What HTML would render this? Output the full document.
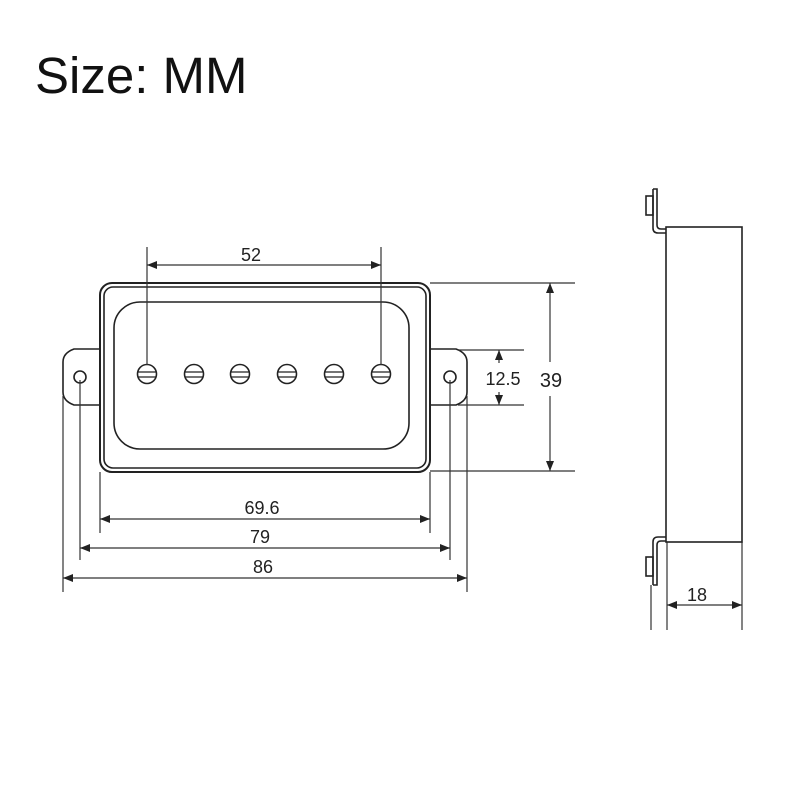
<!DOCTYPE html>
<html><head><style>body{margin:0;background:#fff}svg{display:block}</style></head><body>
<svg width="800" height="800" viewBox="0 0 800 800" xmlns="http://www.w3.org/2000/svg">
<defs>
<marker id="a" markerWidth="10" markerHeight="8" refX="10" refY="4" orient="auto-start-reverse" markerUnits="userSpaceOnUse"><path d="M0,0 L10,4 L0,8 Z" fill="#222"/></marker>
</defs>
<text x="35" y="93" font-family="Liberation Sans, sans-serif" font-size="51" fill="#111">Size: MM</text>
<g fill="none" stroke="#222" stroke-width="1.6">
<path d="M100,349 L74,349 Q63,353 63,362 L63,392 Q63,401 74,405 L100,405"/>
<path d="M430,349 L456,349 Q467,353 467,362 L467,392 Q467,401 456,405 L430,405"/>
<circle cx="80" cy="377" r="6"/><circle cx="450" cy="377" r="6"/>
<rect x="100" y="283" width="330" height="189" rx="12" stroke-width="2"/>
<rect x="104" y="287" width="322" height="181" rx="9"/>
<rect x="114" y="302" width="295" height="147" rx="26"/>
<g>
<circle cx="147" cy="374" r="9.5"/><circle cx="194" cy="374" r="9.5"/><circle cx="240" cy="374" r="9.5"/>
<circle cx="287" cy="374" r="9.5"/><circle cx="334" cy="374" r="9.5"/><circle cx="381" cy="374" r="9.5"/>
</g>
<path d="M138,372h18M138,377h18M185,372h18M185,377h18M231,372h18M231,377h18M278,372h18M278,377h18M325,372h18M325,377h18M372,372h18M372,377h18" stroke-width="1.2"/>
</g>
<g fill="none" stroke="#333" stroke-width="1.2">
<path d="M147,247V365M381,247V365"/>
<line x1="147" y1="265" x2="381" y2="265" marker-start="url(#a)" marker-end="url(#a)"/>
<path d="M430,283H575M430,471H575"/>
<line x1="550" y1="283" x2="550" y2="362" marker-start="url(#a)"/>
<line x1="550" y1="396" x2="550" y2="471" marker-end="url(#a)"/>
<path d="M458,350H524M458,405H524"/>
<line x1="499" y1="363" x2="499" y2="350" marker-end="url(#a)"/>
<line x1="499" y1="392" x2="499" y2="405" marker-end="url(#a)"/>
<path d="M100,472V533M430,472V533M80,380V560M450,380V560M63,396V592M467,396V592"/>
<line x1="100" y1="519" x2="430" y2="519" marker-start="url(#a)" marker-end="url(#a)"/>
<line x1="80" y1="548" x2="450" y2="548" marker-start="url(#a)" marker-end="url(#a)"/>
<line x1="63" y1="578" x2="467" y2="578" marker-start="url(#a)" marker-end="url(#a)"/>
<path d="M651,585V630M667,542V630M742,542V630"/>
<line x1="667" y1="605" x2="742" y2="605" marker-start="url(#a)" marker-end="url(#a)"/>
</g>
<g fill="none" stroke="#222" stroke-width="1.6">
<rect x="666" y="227" width="76" height="315"/>
<path d="M653,189H657V225Q657,229 661,229H666"/>
<path d="M653,189V228Q653,233 658,233H666"/>
<rect x="646" y="196" width="7" height="19"/>
<path d="M653,585H657V545Q657,541 661,541H666"/>
<path d="M653,585V542Q653,537 658,537H666"/>
<rect x="646" y="557" width="7" height="19"/>
</g>
<g font-family="Liberation Sans, sans-serif" font-size="18" fill="#222" text-anchor="middle">
<text x="251" y="261">52</text>
<text x="503" y="385">12.5</text>
<text x="551" y="387" font-size="20">39</text>
<text x="262" y="514">69.6</text>
<text x="260" y="543">79</text>
<text x="263" y="573">86</text>
<text x="697" y="601">18</text>
</g>
</svg>
</body></html>
